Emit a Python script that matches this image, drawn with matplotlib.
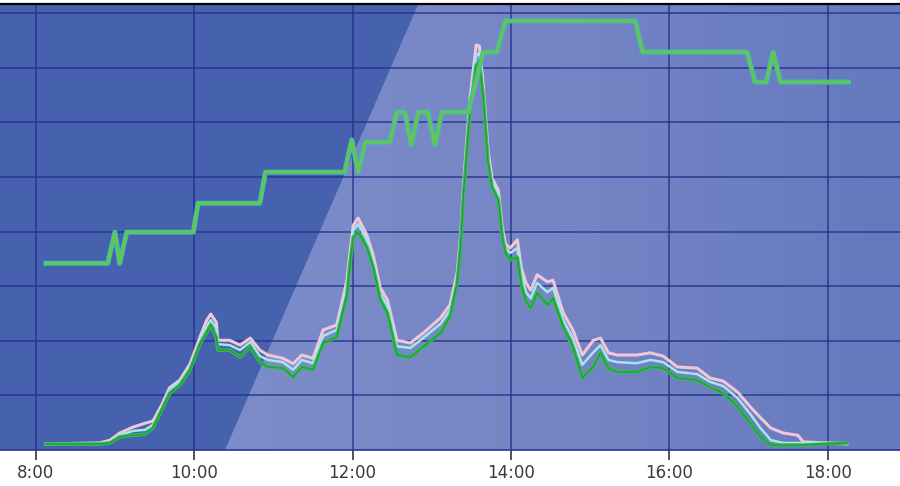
"""Daily irradiance trace: several sensor curves plus a stepped reference line
on a blue panel with a lighter diagonal wedge. Agg only."""

import matplotlib

matplotlib.use("Agg")

import matplotlib.pyplot as plt
import numpy as np
from matplotlib.colors import LinearSegmentedColormap
from matplotlib.patches import Polygon

# time of day in hours, shared by the sensor curves
hours = [8.13, 8.81, 8.94, 9.06, 9.23, 9.38, 9.48, 9.59, 9.69, 9.82, 9.95,
         10.08, 10.16, 10.21, 10.28, 10.30, 10.45, 10.58, 10.71, 10.83, 10.93,
         11.12, 11.25, 11.36, 11.50, 11.63, 11.80, 11.93, 11.97, 12.01, 12.07,
         12.18, 12.26, 12.35, 12.44, 12.56, 12.73, 12.89, 13.11, 13.23, 13.32,
         13.36, 13.40, 13.48, 13.56, 13.60, 13.65, 13.71, 13.76, 13.84, 13.89,
         13.93, 13.99, 14.08, 14.13, 14.19, 14.25, 14.33, 14.46, 14.53, 14.66,
         14.78, 14.90, 15.04, 15.13, 15.23, 15.34, 15.59, 15.76, 15.92, 16.10,
         16.35, 16.51, 16.68, 16.86, 17.02, 17.15, 17.28, 17.44, 17.62, 17.69,
         18.24]

sensor_pink = [11, 13, 18, 31, 42, 49, 53, 82, 114, 128, 158,
               209, 238, 249, 234, 201, 201, 192, 205, 183, 174,
               168, 158, 174, 168, 220, 229, 311, 366, 412, 425,
               394, 357, 297, 275, 201, 196, 214, 242, 266, 324,
               385, 485, 641, 742, 740, 668, 549, 498, 476, 407,
               377, 370, 385, 333, 306, 293, 321, 308, 311, 251,
               220, 174, 201, 205, 178, 174, 174, 178, 172, 152,
               150, 132, 126, 106, 79, 59, 40, 31, 27, 15,
               11]

sensor_cyan = [11, 11, 15, 27, 35, 37, 46, 77, 110, 125, 152,
               201, 227, 238, 223, 194, 192, 183, 198, 172, 165,
               161, 147, 165, 159, 209, 220, 299, 355, 403, 414,
               385, 348, 286, 264, 190, 187, 205, 231, 256, 315,
               377, 476, 630, 723, 727, 659, 538, 491, 469, 399,
               370, 361, 370, 321, 289, 278, 306, 289, 297, 238,
               205, 156, 179, 192, 165, 161, 159, 165, 161, 143,
               139, 125, 117, 95, 66, 40, 18, 13, 13, 13,
               13]

sensor_green = [11, 11, 13, 24, 27, 29, 40, 73, 104, 119, 147,
                196, 216, 229, 207, 183, 183, 170, 189, 161, 152,
                150, 134, 152, 147, 196, 207, 284, 344, 390, 399,
                372, 335, 275, 251, 174, 170, 189, 214, 244, 306,
                366, 467, 617, 705, 711, 647, 526, 482, 458, 390,
                361, 348, 353, 302, 271, 260, 288, 266, 278, 225,
                189, 132, 152, 178, 150, 143, 143, 152, 150, 132,
                128, 115, 104, 79, 49, 24, 9, 9, 9, 9,
                13]

# stepped reference line
step_hours = [8.13, 8.91, 9.00, 9.06, 9.15, 9.99, 10.05, 10.83, 10.90, 11.90,
              11.99, 12.07, 12.16, 12.47, 12.56, 12.66, 12.74, 12.83, 12.95,
              13.04, 13.13, 13.46, 13.65, 13.82, 13.93, 15.57, 15.66, 16.98,
              17.08, 17.22, 17.31, 17.40, 18.26]
step_values = [342, 342, 399, 342, 399, 399, 452, 452, 509, 509,
               568, 509, 564, 564, 619, 619, 559, 619, 619,
               559, 619, 619, 729, 729, 786, 786, 729, 729,
               674, 674, 729, 674, 674]

tick_hours = [8, 10, 12, 14, 16, 18]
tick_labels = ["8:00", "10:00", "12:00", "14:00", "16:00", "18:00"]

x_min, x_max = 7.55, 18.91
y_min, y_max = 0, 817

fig = plt.figure(figsize=(9, 4.86), dpi=100)
fig.patch.set_facecolor("white")
ax = fig.add_axes([0, 36 / 486, 1, 446 / 486])
ax.set_xlim(x_min, x_max)
ax.set_ylim(y_min, y_max)
ax.set_facecolor("#4661ad")

# lighter diagonal wedge with a soft horizontal gradient
wedge = Polygon([(10.39, y_min), (12.83, y_max), (x_max, y_max), (x_max, y_min)],
                closed=True, transform=ax.transData, facecolor="none", edgecolor="none")
ax.add_patch(wedge)
cmap = LinearSegmentedColormap.from_list("wedge", ["#7d8dca", "#7585c5", "#6479be"])
grad = np.linspace(0, 1, 256).reshape(1, -1)
img = ax.imshow(grad, cmap=cmap, extent=[10.39, x_max, y_min, y_max],
                aspect="auto", zorder=0.5, interpolation="bicubic")
img.set_clip_path(wedge)

# grid
for h in tick_hours:
    ax.axvline(h, color="#23308a", alpha=0.75, lw=1.3, zorder=1)
for v in range(100, 900, 100):
    ax.axhline(v, color="#23308a", alpha=0.75, lw=1.3, zorder=1)

# sensor bundle
ax.plot(hours, sensor_pink, color="#f2c6d8", lw=2.2, zorder=3)
ax.plot(hours, sensor_cyan, color="#a8e4ec", lw=1.8, zorder=4)
ax.plot(hours, sensor_green, color="#36bb55", lw=2.6, zorder=5)
ax.plot(hours, sensor_green, color="#1f9c3e", lw=0.9, zorder=6)

# stepped line
ax.plot(step_hours, step_values, color="#36c2b4", lw=3.6, zorder=7)
ax.plot(step_hours, step_values, color="#6cc24c", lw=2.0, zorder=8)

ax.set_xticks(tick_hours)
ax.set_xticklabels(tick_labels, fontsize=12, color="#3a3a3a")
ax.set_yticks([])
ax.tick_params(axis="x", direction="out", length=7, width=1.2, color="#333333", pad=3)

for side in ("left", "right"):
    ax.spines[side].set_visible(False)
ax.spines["top"].set_color("black")
ax.spines["top"].set_linewidth(1.6)
ax.spines["bottom"].set_color("#2a3590")
ax.spines["bottom"].set_linewidth(1.2)

fig.savefig("out.png", dpi=100)
plt.close(fig)
